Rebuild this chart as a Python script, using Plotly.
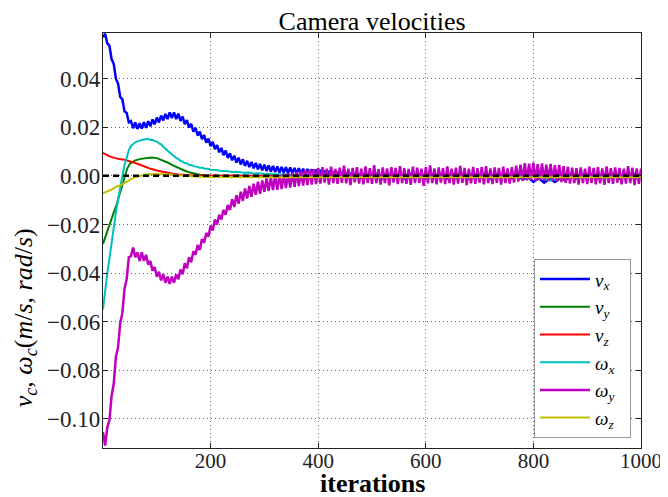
import plotly.graph_objects as go

# iteration grids
it_wy = list(range(0, 1001, 4))
it_vx = list(range(0, 501, 4)) + list(range(510, 1001, 10))
it_vy = [0, 5, 10, 15, 20, 25, 30, 35, 40, 45, 50, 55, 60, 70, 80, 90, 100, 110, 120,
         130, 140, 150, 160, 170, 180, 190, 200, 250, 300, 1000]
it_vz = [0, 5, 10, 15, 20, 25, 30, 40, 50, 60, 70, 80, 90, 100, 110, 120, 130, 140,
         150, 170, 200, 300, 1000]
it_wx = [0, 4, 8, 12, 16, 20, 24, 28, 32, 36, 40, 44, 48, 52, 56, 60, 64, 68, 72, 76,
         80, 84, 88, 92, 96, 100, 104, 108, 112, 116, 120, 124, 128, 132, 136, 140, 144,
         148, 152, 156, 160, 165, 170, 175, 180, 185, 190, 195, 200, 210, 220, 230, 240,
         250, 260, 270, 280, 290, 300, 310, 320, 330, 340, 350, 370, 400, 450, 500, 800,
         820, 830, 840, 850, 870, 1000]
it_wz = [0, 10, 20, 25, 30, 35, 40, 45, 50, 55, 60, 70, 80, 90, 100, 120, 140, 160,
         180, 200, 300, 1000]

# values, in 1e-3 units
vx_milli = [57, 58.5, 54.5, 53.5, 48, 46, 40, 38, 32.5, 31.5,
            26.5, 26, 22, 22.5, 19.6, 22, 19.3, 21.7, 19.5, 22.1,
            19.8, 22.5, 20.4, 23.2, 21.2, 24, 22, 24.8, 22.8, 25.5,
            23.4, 26.1, 23.8, 26.1, 23.4, 25.6, 22.6, 24.4, 21.3, 23,
            19.8, 21.4, 18.2, 19.8, 16.6, 18.2, 15.1, 16.8, 13.7, 15.3,
            12.2, 14, 11, 12.7, 9.7, 11.5, 8.5, 10.4, 7.4, 9.3,
            6.4, 8.3, 5.5, 7.5, 4.7, 6.8, 4.1, 6.2, 3.6, 5.7,
            3.1, 5.3, 2.7, 4.9, 2.3, 4.6, 2, 4.3, 1.8, 4.1,
            1.6, 3.9, 1.4, 3.7, 1.3, 3.6, 1.1, 3.5, 1, 3.3,
            0.8, 3.2, 0.7, 3, 0.5, 2.9, 0.4, 2.7, 0.3, 2.6,
            0.1, 2.4, 0, 2.2, -0.2, 2, -0.3, 1.8, -0.4, 1.7,
            -0.5, 1.5, -0.6, 1.4, -0.7, 1.2, -0.8, 1.1, -0.9, 1,
            -1, 0.9, -1, 0.8, -1,
            0.7,
            0.8, -1, 0.9, -0.9, 0.8, -1, 1, -0.8, 0.9, -1,
            0.8, -0.9, 1, -1, 0.8, -0.9, 0.9, -1, 0.8, -0.9,
            1, -1, 0.8, -0.9, 0.9, -1, 0.5, -1.5, -0.5, -2.5,
            -1, -2.8, -1.2, -2.5, -1, -1.8, 0.5, -1, 0.8, -0.9,
            0.9, -1, 0.8, -0.9, 0.9, -1, 0.8, -0.9, 0.9, -1]
vy_milli = [-28, -24.5, -21, -18, -15, -12, -8, -4, -0.5, 3, 5, 5.8, 6.4, 7, 7.4, 7.6,
            7.3, 6.5, 5.5, 4.3, 3.2, 2.3, 1.5, 0.9, 0.5, 0.3, 0.1, 0, -0.1, 0]
vz_milli = [9.5, 8.8, 8.2, 7.8, 7.4, 7.1, 6.9, 6.6, 6.1, 5.3, 4.5, 3.6, 2.8, 2.2, 1.7,
            1.2, 0.9, 0.6, 0.4, 0.2, 0.1, 0, 0]
wx_milli = [-55, -47, -40, -34, -27, -21, -15, -10, -4.5, 0, 4.5, 8, 10.5, 12.3, 13.2,
            13.8, 14.2, 14.6, 14.8, 15, 15.1, 15.2, 14.8, 14.9, 14.3, 14.2, 13.4, 13, 12,
            11.3, 10.4, 9.6, 8.8, 8, 7.4, 6.9, 6.2, 5.9, 5.3, 5.1, 4.6, 4.4, 3.9, 3.8, 3.3,
            3.3, 2.9, 2.9, 2.5, 2.4, 2.0, 2.0, 1.6, 1.7, 1.3, 1.4, 1.0, 1.1, 0.8, 0.9, 0.6,
            0.7, 0.5, 0.5, 0.3, 0.2, 0, 0, 0, -1, -2, -1.5, -0.5, 0, 0]
wy_milli = [-105.5, -111, -103.5, -100.5, -90.5, -85.5, -74.5, -70.5, -60.5, -56.5,
            -46.5, -42.5, -33.5, -33, -29.5, -33.5, -31.5, -35, -31.5, -35,
            -32.5, -36.5, -35, -39, -37.5, -41.5, -39.5, -43, -40.5, -44,
            -41.5, -44.5, -41.5, -44, -40.5, -42.5, -38.5, -40.5, -36, -38,
            -33.5, -35.5, -31, -32.5, -28.5, -30.5, -26, -27.5, -23.5, -25,
            -20.5, -22.5, -18, -20, -16, -18, -14, -16, -12, -14,
            -9.6, -12.8, -8, -11.5, -6.5, -10.3, -5.2, -9.3, -4.2, -8.6,
            -3.2, -7.8, -2.4, -7.4, -1.9, -6.6, -1, -6.2, -0.5, -5.8,
            0, -5.7, 0.3, -5.4, 0.8, -5, 1.1, -4.8, 1.4, -4.5,
            1.7, -4.2, 2, -4, 2.3, -3.8, 2.5, -3.6, 2.8, -3.4,
            3.3, -3.2, 3.6, -2.8, 3, -3.6, 3.8, -3, 2.9, -3.3,
            3.4, -2.9, 4.2, -3.1, 3, -3.8, 3.3, -2.7, 3.6, -3.2,
            3, -3.5, 3.9, -2.9, 3.2, -3.3, 4.4, -3, 2.8, -3.6,
            3.5, -3, 3.1, -3.9, 3.6, -2.8, 3.3, -3.4, 4, -3,
            3.2, -3.3, 2.9, -3.7, 3.8, -3, 3.4, -2.9, 3, -4.1,
            3.6, -3.1, 4.3, -3, 3.1, -3.5, 3.5, -2.8, 3.2, -3.4,
            3.9, -3, 3, -3.6, 3.4, -3.2, 4.1, -2.9, 3.3, -3.8,
            3, -3.1, 3.7, -3.3, 3.2, -2.8, 3.6, -3.5, 4, -3,
            3.1, -3.4, 3.5, -2.9, 3.3, -3.6, 3.8, -3, 3.1, -3.2,
            3.6, -2.8, 4.2, -2.4, 4.6, -2, 5.2, -1.8, 5, -1.6,
            5.4, -2, 4.8, -1.7, 5.1, -2.1, 4.6, -1.9, 4.9, -2.2,
            4.4, -2.3, 4.5, -2.6, 4, -2.9, 3.8, -3.2, 3.4, -3,
            3.2, -3.6, 3.5, -3, 3, -3.4, 3.8, -2.9, 3.3, -3.5,
            3.6, -3.1, 3.1, -3.7, 3.9, -3, 3.2, -3.3, 3.5, -2.8,
            3.3, -3.5, 3, -3.2, 4, -3, 3.4, -3.8, 3.1, -3.3,
            3]
wz_milli = [-7.2, -6.3, -5.2, -4.4, -4.2, -3.5, -2.8, -2.2, -1.6, -1.0, -0.5, 0.2, 0.6,
            0.8, 0.8, 0.7, 0.3, -0.1, -0.4, -0.5, -0.6, -0.6]

pad = "\u00a0\u00a0"
labels = ["<i>v</i><sub><i>x</i></sub>", "<i>v</i><sub><i>y</i></sub>",
          "<i>v</i><sub><i>z</i></sub>", "<i>ω</i><sub><i>x</i></sub>",
          "<i>ω</i><sub><i>y</i></sub>", "<i>ω</i><sub><i>z</i></sub>"]
colors = ["#0000ff", "#008000", "#ff0000", "#00bfbf", "#bf00bf", "#bfbf00"]
widths = [2.5, 2, 2, 2, 2.5, 2]
x_ticks = [200, 400, 600, 800, 1000]
y_ticks = [0.04, 0.02, 0.0, -0.02, -0.04, -0.06, -0.08, -0.10]

series = [(it_vx, vx_milli), (it_vy, vy_milli), (it_vz, vz_milli),
          (it_wx, wx_milli), (it_wy, wy_milli), (it_wz, wz_milli)]

FONT = "Liberation Serif"

fig = go.Figure()
for (xs, ys), name, col, w in zip(series, labels, colors, widths):
    assert len(xs) == len(ys), name
    fig.add_trace(go.Scatter(x=xs, y=[v / 1000 for v in ys], mode="lines",
                             name=name + pad, line=dict(color=col, width=w)))

fig.add_hline(y=0, line=dict(color="black", width=2.5, dash="6px,4px"), layer="above")

axis_common = dict(showline=True, linecolor="#222", linewidth=1.2, mirror="ticks",
                   ticks="inside", ticklen=5, tickcolor="#222",
                   showgrid=True, gridcolor="#666", gridwidth=1, griddash="1px,3px",
                   zeroline=False)

# page body adds an 8px offset, margins compensate for it
fig.update_layout(
    width=668, height=497,
    margin=dict(l=95, r=35, t=25, b=57),
    paper_bgcolor="white", plot_bgcolor="white",
    font=dict(family=FONT, color="black"),
    title=dict(text="Camera velocities", x=0.545, xanchor="center", y=0.975,
               yanchor="middle", yref="container", font=dict(family=FONT, size=26)),
    xaxis=dict(range=[0, 1000], tickvals=x_ticks, ticklabelstandoff=-6,
               tickfont=dict(family=FONT, size=21, color="#222"), **axis_common),
    yaxis=dict(range=[-0.112, 0.0588], tickvals=y_ticks, tickformat=".2f",
               ticklabelstandoff=-3,
               tickfont=dict(family=FONT, size=23, color="#222"), **axis_common),
    legend=dict(x=0.981, y=0.024, xanchor="right", yanchor="bottom",
                bordercolor="#999", borderwidth=1.2, bgcolor="white",
                font=dict(family=FONT, size=19), itemwidth=50, tracegroupgap=0),
    showlegend=True,
    annotations=[
        dict(text="<b>iterations</b>", xref="paper", yref="paper", x=0.5, y=-0.086,
             xanchor="center", yanchor="middle", showarrow=False,
             font=dict(family=FONT, size=26)),
        dict(text="<i>v</i><sub><i>c</i></sub>, <i>ω</i><sub><i>c</i></sub>(<i>m</i>/<i>s</i>, <i>rad</i>/<i>s</i>)",
             xref="paper", yref="paper", x=-0.145, y=0.315, textangle=-90,
             xanchor="center", yanchor="middle", showarrow=False,
             font=dict(family=FONT, size=26)),
    ],
)

fig.write_html("out.html")
